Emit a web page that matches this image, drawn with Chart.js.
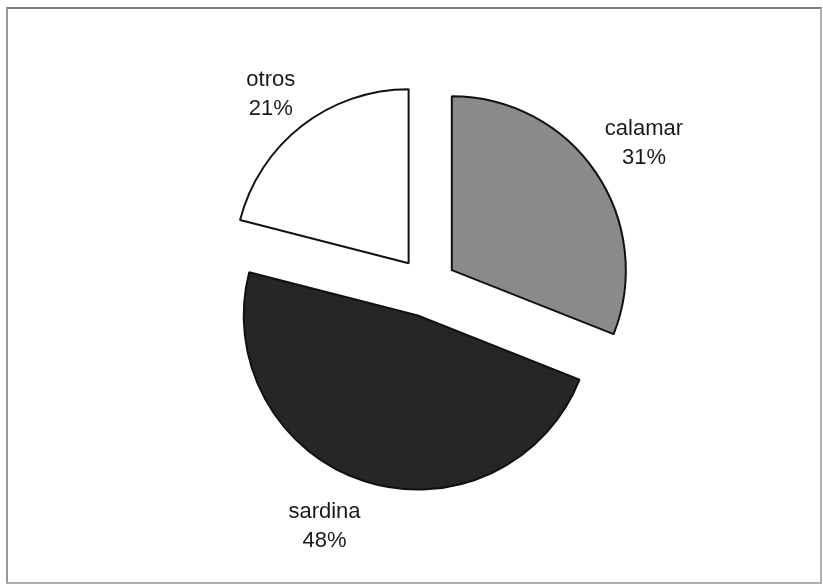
<!DOCTYPE html>
<html>
<head>
<meta charset="utf-8">
<script src="https://cdn.jsdelivr.net/npm/chart.js@4/dist/chart.umd.min.js"></script>
<style>
    body { margin: 0; background: #fff; }
    #wrap { position: relative; width: 823px; height: 586px; }
    #frame {
        position: absolute; left: 6px; top: 7px; width: 812px; height: 573px;
        border: 2px solid #b0b0b0; border-top-color: #7a7a7a; border-left-color: #999;
    }
    canvas { position: absolute; left: 0; top: 0; }
</style>
</head>
<body>
<div id="wrap">
    <div id="frame"></div>
    <canvas id="pieChart" width="823" height="586"></canvas>
</div>
<script>
let labels = ['calamar', 'sardina', 'otros'];
let values = [31, 48, 21];
let colors = ['#8a8a8a', '#262626', '#ffffff'];

let total = values.reduce((sum, v) => sum + v, 0);
let percents = values.map(v => Math.round(v / total * 100) + '%');

// pull every slice out from the centre by the same distance
let explodePlugin = {
    id: 'explode',
    afterDatasetUpdate(chart, args) {
        let gap = 30;
        args.meta.data.forEach(arc => {
            let mid = (arc.startAngle + arc.endAngle) / 2;
            arc.x += Math.cos(mid) * gap;
            arc.y += Math.sin(mid) * gap;
        });
    }
};

// two-line labels (name + percent) just outside each slice
let labelPlugin = {
    id: 'sliceLabels',
    afterDatasetsDraw(chart) {
        let ctx = chart.ctx;
        let meta = chart.getDatasetMeta(0);
        let lineHeight = 29;
        let pad = 11;
        let nudge = 6;
        ctx.save();
        ctx.font = '22px "Liberation Sans", Arial, sans-serif';
        ctx.fillStyle = '#1a1a1a';
        ctx.textAlign = 'center';
        ctx.textBaseline = 'middle';
        meta.data.forEach((arc, i) => {
            let mid = (arc.startAngle + arc.endAngle) / 2;
            let cos = Math.cos(mid);
            let sin = Math.sin(mid);
            let r = arc.outerRadius + pad;
            let px = arc.x + cos * r;
            let py = arc.y + sin * r;
            let w = Math.max(ctx.measureText(labels[i]).width, ctx.measureText(percents[i]).width);
            let h = lineHeight * 2;
            let cx = px + Math.sign(cos) * w / 2;
            let cy = py + Math.sign(sin) * h / 2 + nudge;
            ctx.fillText(labels[i], cx, cy - lineHeight / 2);
            ctx.fillText(percents[i], cx, cy + lineHeight / 2);
        });
        ctx.restore();
    }
};

new Chart(document.getElementById('pieChart'), {
    type: 'pie',
    data: {
        labels: labels,
        datasets: [{
            data: values,
            backgroundColor: colors,
            borderColor: '#111111',
            borderWidth: 2
        }]
    },
    options: {
        responsive: false,
        animation: false,
        radius: 174,
        layout: {
            padding: { left: 31, right: 0, top: 0, bottom: 12 }
        },
        plugins: {
            legend: { display: false },
            tooltip: { enabled: false }
        }
    },
    plugins: [explodePlugin, labelPlugin]
});
</script>
</body>
</html>
